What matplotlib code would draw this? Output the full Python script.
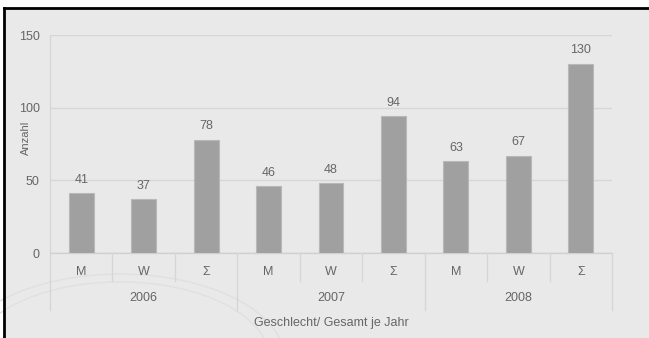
import matplotlib
matplotlib.use("Agg")
import matplotlib.pyplot as plt
from matplotlib.patches import Rectangle, Circle
from matplotlib.lines import Line2D

plt.rcParams['font.family'] = ['Liberation Sans', 'DejaVu Sans']

# Data
years = ["2006", "2007", "2008"]
groups = ["M", "W", "Σ"]
values = [41, 37, 78, 46, 48, 94, 63, 67, 130]
y_ticks = [0, 50, 100, 150]

W, H = 649, 338
BG = "#e9e9e9"
TXT = "#666666"
GRID = "#d6d6d6"
FS = 9

fig = plt.figure(figsize=(W / 100, H / 100), dpi=100)
fig.patch.set_facecolor("white")

# panel background with a dark top/left frame
fig.patches.append(Rectangle((4 / W, 0), 1, 1 - 8 / H, transform=fig.transFigure,
                             facecolor=BG, edgecolor="none", zorder=-3))
fig.lines.append(Line2D([4 / W, 1], [1 - 8 / H] * 2, transform=fig.transFigure,
                        color="black", lw=2, zorder=-1))
fig.lines.append(Line2D([4 / W] * 2, [0, 1 - 8 / H], transform=fig.transFigure,
                        color="black", lw=2, zorder=-1))

# faint seal in the lower left corner
for r in (165, 150):
    fig.patches.append(Circle((120 / W, 1 - 360 / H), r / W, transform=fig.transFigure,
                              facecolor="none", edgecolor="#e0e0e0", lw=1.0, zorder=-2))

x0, x1 = 50, 612
ytop, ybot = 35, 253
ax = fig.add_axes([x0 / W, 1 - ybot / H, (x1 - x0) / W, (ybot - ytop) / H])
ax.set_facecolor("none")
for s in ax.spines.values():
    s.set_visible(False)

n = len(values)
xs = list(range(n))
ax.bar(xs, values, width=0.4, color="#a0a0a0", edgecolor="#b8b8b8", linewidth=0.8, zorder=3)
for x, v in zip(xs, values):
    ax.annotate(str(v), (x, v), xytext=(0, 5.5), textcoords="offset points",
                ha="center", va="bottom", fontsize=FS, color=TXT)

ax.set_xlim(-0.5, n - 0.5)
ax.set_ylim(0, 150)
ax.set_yticks(y_ticks)
ax.set_yticklabels([str(t) for t in y_ticks])
ax.tick_params(axis="y", length=0, pad=7.5, labelsize=FS, labelcolor=TXT)
ax.set_xticks([])
ax.yaxis.grid(True, color=GRID, lw=1, zorder=1)
ax.set_axisbelow(True)

tr = ax.get_xaxis_transform()
# zero line and left axis line
ax.plot([-0.5, n - 0.5], [0, 0], transform=tr, color="#d0d0d0", lw=1, clip_on=False, zorder=2)
ax.plot([-0.5, -0.5], [1, -0.26], transform=tr, color=GRID, lw=1, clip_on=False, zorder=2)

# category separators
for i in range(1, n + 1):
    xb = i - 0.5
    low = -0.26 if i % 3 == 0 else -0.128
    ax.plot([xb, xb], [0, low], transform=tr, color=GRID, lw=1, clip_on=False)

for i in range(n):
    ax.text(i, -0.087, groups[i % 3], transform=tr, ha="center", va="center",
            fontsize=FS, color=TXT)
for j, yr in enumerate(years):
    ax.text(3 * j + 1, -0.206, yr, transform=tr, ha="center", va="center",
            fontsize=FS, color=TXT)
ax.text((n - 1) / 2, -0.321, "Geschlecht/ Gesamt je Jahr", transform=tr,
        ha="center", va="center", fontsize=FS, color=TXT)

fig.text(26 / W, 1 - 138 / H, "Anzahl", rotation=90, ha="center", va="center",
         fontsize=8, color=TXT)

fig.savefig("out.png", dpi=100, facecolor=fig.get_facecolor())
